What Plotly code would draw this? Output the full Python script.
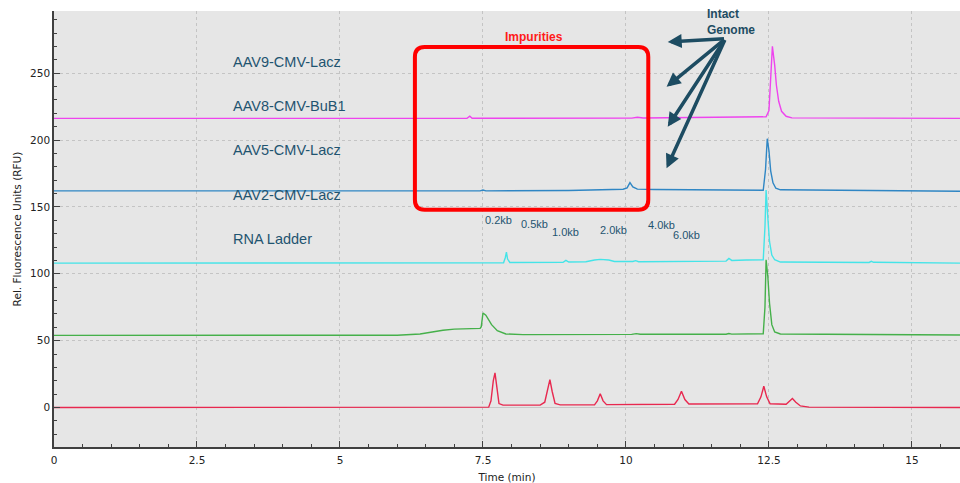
import plotly.graph_objects as go

# Electropherogram traces: retention time (min) and relative fluorescence (RFU)
aav9_t = [0, 7.22, 7.27, 7.31, 10.1, 10.2, 10.3, 12.45, 12.5, 12.53, 12.56, 12.6, 12.63, 12.67, 12.72, 12.8, 12.9, 15.84]
aav9_v = [216.2, 216.2, 217.8, 216.3, 216.4, 217.0, 216.5, 217.4, 222, 250, 270.1, 256, 241, 229, 221.5, 217.8, 216.6, 216.2]

aav8_t = [0, 7.45, 7.5, 7.55, 9.0, 9.6, 9.95, 10.02, 10.07, 10.12, 10.2, 10.5, 12.4, 12.44, 12.47, 12.5, 12.53, 12.57, 12.62, 12.7, 15.84]
aav8_v = [162, 162, 162.6, 162, 162.3, 162.8, 163.2, 164.2, 168.2, 165, 163.3, 163, 162.5, 178, 201, 192, 177, 168, 164, 162.8, 161.7]

aav5_t = [0, 7.86, 7.89, 7.91, 7.93, 7.97, 8.9, 8.95, 9.0, 9.3, 9.45, 9.55, 9.7, 9.8, 10.12, 10.17, 10.22,
          11.75, 11.8, 11.85, 12.1, 12.4, 12.43, 12.45, 12.48, 12.51, 12.55, 12.6, 12.7, 14.25, 14.29, 14.33, 15.84]
aav5_v = [108, 108.2, 112, 116.2, 111, 108.5, 108.6, 110, 108.8, 109, 110.3, 110.8, 110.3, 109.2, 109.2, 109.8, 109,
          109.5, 111.5, 110, 110.3, 110.5, 135, 162.7, 142, 124, 114, 110.5, 108.8, 108.5, 109.3, 108.6, 108]

aav2_t = [0, 6.0, 6.4, 6.8, 7.0, 7.3, 7.45, 7.47, 7.5, 7.55, 7.65, 7.75, 7.9, 8.2, 10.1, 10.18, 10.25,
          11.75, 11.8, 11.85, 12.4, 12.43, 12.45, 12.48, 12.51, 12.55, 12.6, 12.7, 15.84]
aav2_v = [54, 54.1, 55, 57.8, 58.6, 59.2, 59.2, 60.5, 70.7, 69, 62, 57.5, 55, 54.5, 54.7, 55.3, 54.8,
          54.8, 55.3, 54.9, 55.2, 75, 110.4, 98, 78, 62, 56.5, 55.0, 54.2]

ladder_t = [0, 7.6, 7.64, 7.68, 7.71, 7.74, 7.78, 7.85, 8.5, 8.58, 8.63, 8.67, 8.71, 8.76, 8.85,
            9.45, 9.5, 9.55, 9.6, 9.66, 10.85, 10.91, 10.97, 11.03, 11.1,
            12.3, 12.36, 12.41, 12.46, 12.52, 12.8, 12.86, 12.91, 12.97, 13.05, 13.2, 15.84]
ladder_v = [0, 0.3, 5, 20, 25.9, 15, 3, 1.8, 1.8, 4, 14, 20.9, 12, 3, 2,
            2, 5, 10.4, 5, 2.2, 2.5, 6, 12.2, 6, 2.6,
            2.8, 8, 15.9, 8, 2.8, 2.5, 5, 6.7, 4, 1.2, 0.3, 0]

trace_names = ["AAV9-CMV-Lacz", "AAV8-CMV-BuB1", "AAV5-CMV-Lacz", "AAV2-CMV-Lacz", "RNA Ladder"]
trace_colors = ["#ee44ee", "#2f86c4", "#44e4e8", "#45b04a", "#e8284f"]
series = [(aav9_t, aav9_v), (aav8_t, aav8_v), (aav5_t, aav5_v), (aav2_t, aav2_v), (ladder_t, ladder_v)]

# Sample label positions (time, RFU)
label_x = [3.1, 3.1, 3.1, 3.1, 3.1]
label_y = [258.2, 225.4, 192.5, 159.0, 126.1]

# RNA ladder size markers
kb_labels = ["0.2kb", "0.5kb", "1.0kb", "2.0kb", "4.0kb", "6.0kb"]
kb_x = [7.77, 8.40, 8.95, 9.79, 10.62, 11.06]
kb_y = [140.3, 137.3, 131.6, 132.8, 136.6, 129.1]

# Intact genome arrows: tail point and arrow tips
arrow_tail = (11.74, 275.9)
arrow_tip_x = [10.73, 10.71, 10.73, 10.71]
arrow_tip_y = [273.4, 239.8, 209.9, 178.9]

TEXT = "#1f5470"
AXIS = "#404040"

fig = go.Figure()
for (t, v), name, color in zip(series, trace_names, trace_colors):
    fig.add_trace(go.Scatter(x=t, y=v, mode="lines", name=name,
                             line=dict(color=color, width=1.4)))

annotations = []
for name, x, y in zip(trace_names, label_x, label_y):
    annotations.append(dict(x=x, y=y, text=name, showarrow=False, xanchor="left", yanchor="middle",
                            font=dict(family="Liberation Sans, Arial", size=14.5, color=TEXT)))
for lab, x, y in zip(kb_labels, kb_x, kb_y):
    annotations.append(dict(x=x, y=y, text=lab, showarrow=False, xanchor="center", yanchor="middle",
                            font=dict(family="Liberation Sans, Arial", size=11, color=TEXT)))
annotations.append(dict(x=8.40, y=276.9, text="<b>Impurities</b>", showarrow=False,
                        font=dict(family="Liberation Sans, Arial", size=12, color="#ff1a1a")))
annotations.append(dict(x=(705 - 54.3) / 57.2, y=(408 - 22) / 1.3387, text="<b>Intact<br>Genome</b>",
                        showarrow=False, xanchor="left", yanchor="middle", align="left",
                        font=dict(family="Liberation Sans, Arial", size=12, color="#1d4c62")))
for tx, ty in zip(arrow_tip_x, arrow_tip_y):
    annotations.append(dict(x=tx, y=ty, ax=arrow_tail[0], ay=arrow_tail[1], axref="x", ayref="y",
                            text="", showarrow=True, arrowhead=2, arrowsize=0.8, arrowwidth=3.5,
                            arrowcolor="#1d4c62"))

# Rounded box around the impurity region
bx0, bx1, by0, by1 = 6.31, 10.39, 147.8, 269.6
rx, ry = 0.17, 7.5
box_path = (f"M {bx0+rx},{by1} L {bx1-rx},{by1} Q {bx1},{by1} {bx1},{by1-ry} "
            f"L {bx1},{by0+ry} Q {bx1},{by0} {bx1-rx},{by0} L {bx0+rx},{by0} "
            f"Q {bx0},{by0} {bx0},{by0+ry} L {bx0},{by1-ry} Q {bx0},{by1} {bx0+rx},{by1} Z")

fig.update_layout(
    width=960, height=483,
    margin=dict(l=54, r=0, t=11, b=36),
    paper_bgcolor="white", plot_bgcolor="#e6e6e6",
    showlegend=False,
    font=dict(family="DejaVu Sans", size=10.5, color="#222222"),
    annotations=annotations,
    shapes=[dict(type="path", path=box_path, xref="x", yref="y",
                 line=dict(color="#ff0000", width=4), fillcolor="rgba(0,0,0,0)")],
)
fig.update_xaxes(
    range=[0, 15.84], tickvals=[0, 2.5, 5, 7.5, 10, 12.5, 15],
    ticktext=["0", "2.5", "5", "7.5", "10", "12.5", "15"],
    ticklabelstandoff=3,
    title=dict(text="Time (min)", standoff=9, font=dict(size=10.5)),
    showline=True, linecolor=AXIS, linewidth=1.5, ticks="inside", ticklen=6, tickcolor=AXIS,
    minor=dict(dtick=0.5, ticks="inside", ticklen=3, tickcolor=AXIS, showgrid=False),
    showgrid=True, gridcolor="#c4c4c4", griddash="dot", gridwidth=1, zeroline=False,
)
fig.update_yaxes(
    range=[-29.5, 296.5], tickvals=[0, 50, 100, 150, 200, 250],
    title=dict(text="Rel. Fluorescence Units (RFU)", standoff=6, font=dict(size=10.5)),
    showline=True, linecolor=AXIS, linewidth=1.5, ticks="inside", ticklen=6, tickcolor=AXIS,
    minor=dict(dtick=10, ticks="inside", ticklen=3, tickcolor=AXIS, showgrid=False),
    showgrid=True, gridcolor="#c4c4c4", griddash="dot", gridwidth=1,
    zeroline=True, zerolinecolor="#c8c8c8", zerolinewidth=1,
)

fig.write_html("out.html")
